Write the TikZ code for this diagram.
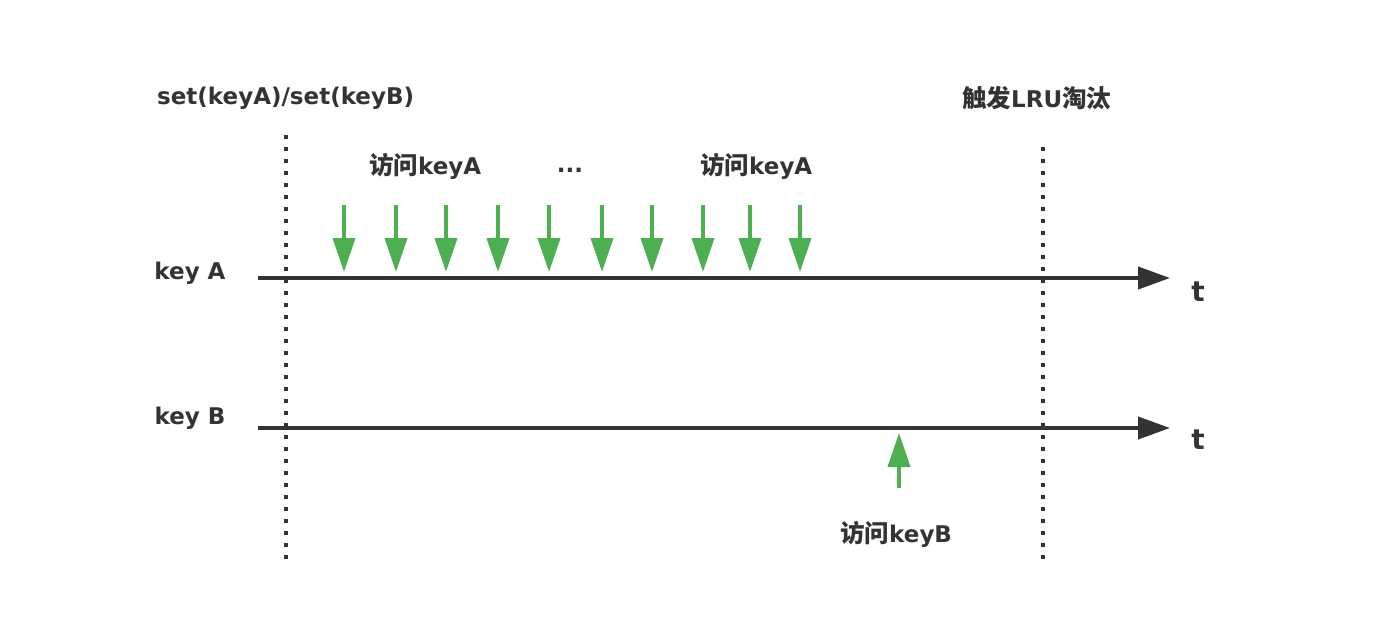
\documentclass[tikz,border=0pt]{standalone}
\usepackage{fontspec}
\setmainfont{DejaVu Sans}
\newfontfamily\cjk{Noto Sans CJK SC}
\usetikzlibrary{arrows.meta}
\definecolor{dk}{HTML}{333333}
\definecolor{gr}{HTML}{4CAF50}
\newcommand{\zh}[1]{{\cjk\fontsize{24.5}{28}\selectfont\bfseries #1}}
\tikzset{
  axisline/.style={draw=dk, line width=4pt, -{Triangle[length=32pt,width=22pt]}},
  greenarrow/.style={draw=gr, line width=4pt, -{Triangle[length=34pt,width=22pt]}},
  dotline/.style={draw=dk, line width=4pt, dash pattern=on 4pt off 8pt},
  lbl/.style={text=dk, font=\fontsize{23}{26}\selectfont\bfseries, inner sep=0pt},
  tlbl/.style={text=dk, font=\fontsize{28}{30}\selectfont\bfseries, inner sep=0pt}
}
\begin{document}
\begin{tikzpicture}[x=1pt,y=-1pt]
\useasboundingbox (0,0) rectangle (1386,622);
% dotted verticals
\coordinate (d1t) at (286,135);
\coordinate (d1b) at (286,560);
\coordinate (d2t) at (1043,147);
\coordinate (d2b) at (1043,560);
\draw[dotline] (d1t) -- (d1b);
\draw[dotline] (d2t) -- (d2b);
% axes
\coordinate (a1) at (258,278);
\coordinate (a2) at (1170,278);
\coordinate (b1) at (258,428);
\coordinate (b2) at (1170,428);
\draw[axisline] (a1) -- (a2);
\draw[axisline] (b1) -- (b2);
% labels
\node[lbl, anchor=west] (setl) at (157,98) {set(keyA)/set(keyB)};
\node[lbl, anchor=west] (lru) at (962,98) {\zh{触发}LRU\zh{淘汰}};
\node[lbl] (keya) at (190,273) {key A};
\node[lbl] (keyb) at (190,418) {key B};
\node[tlbl] (ta) at (1198,292) {t};
\node[tlbl] (tb) at (1198,440) {t};
\node[lbl, anchor=west] (acc1) at (369,166) {\zh{访问}keyA};
\node[lbl] (dots) at (570,170) {...};
\node[lbl, anchor=west] (acc2) at (700,166) {\zh{访问}keyA};
\node[lbl, anchor=west] (accb) at (840,534) {\zh{访问}keyB};
% green arrows on key A
\foreach \i/\x in {1/344,2/396,3/446,4/498,5/549,6/602,7/652,8/703,9/750,10/800}{
  \coordinate (gs\i) at (\x,205);
  \coordinate (ge\i) at (\x,272);
  \draw[greenarrow] (gs\i) -- (ge\i);
}
% green arrow on key B
\coordinate (ubs) at (899,488);
\coordinate (ube) at (899,433);
\draw[greenarrow] (ubs) -- (ube);
\end{tikzpicture}
\end{document}
